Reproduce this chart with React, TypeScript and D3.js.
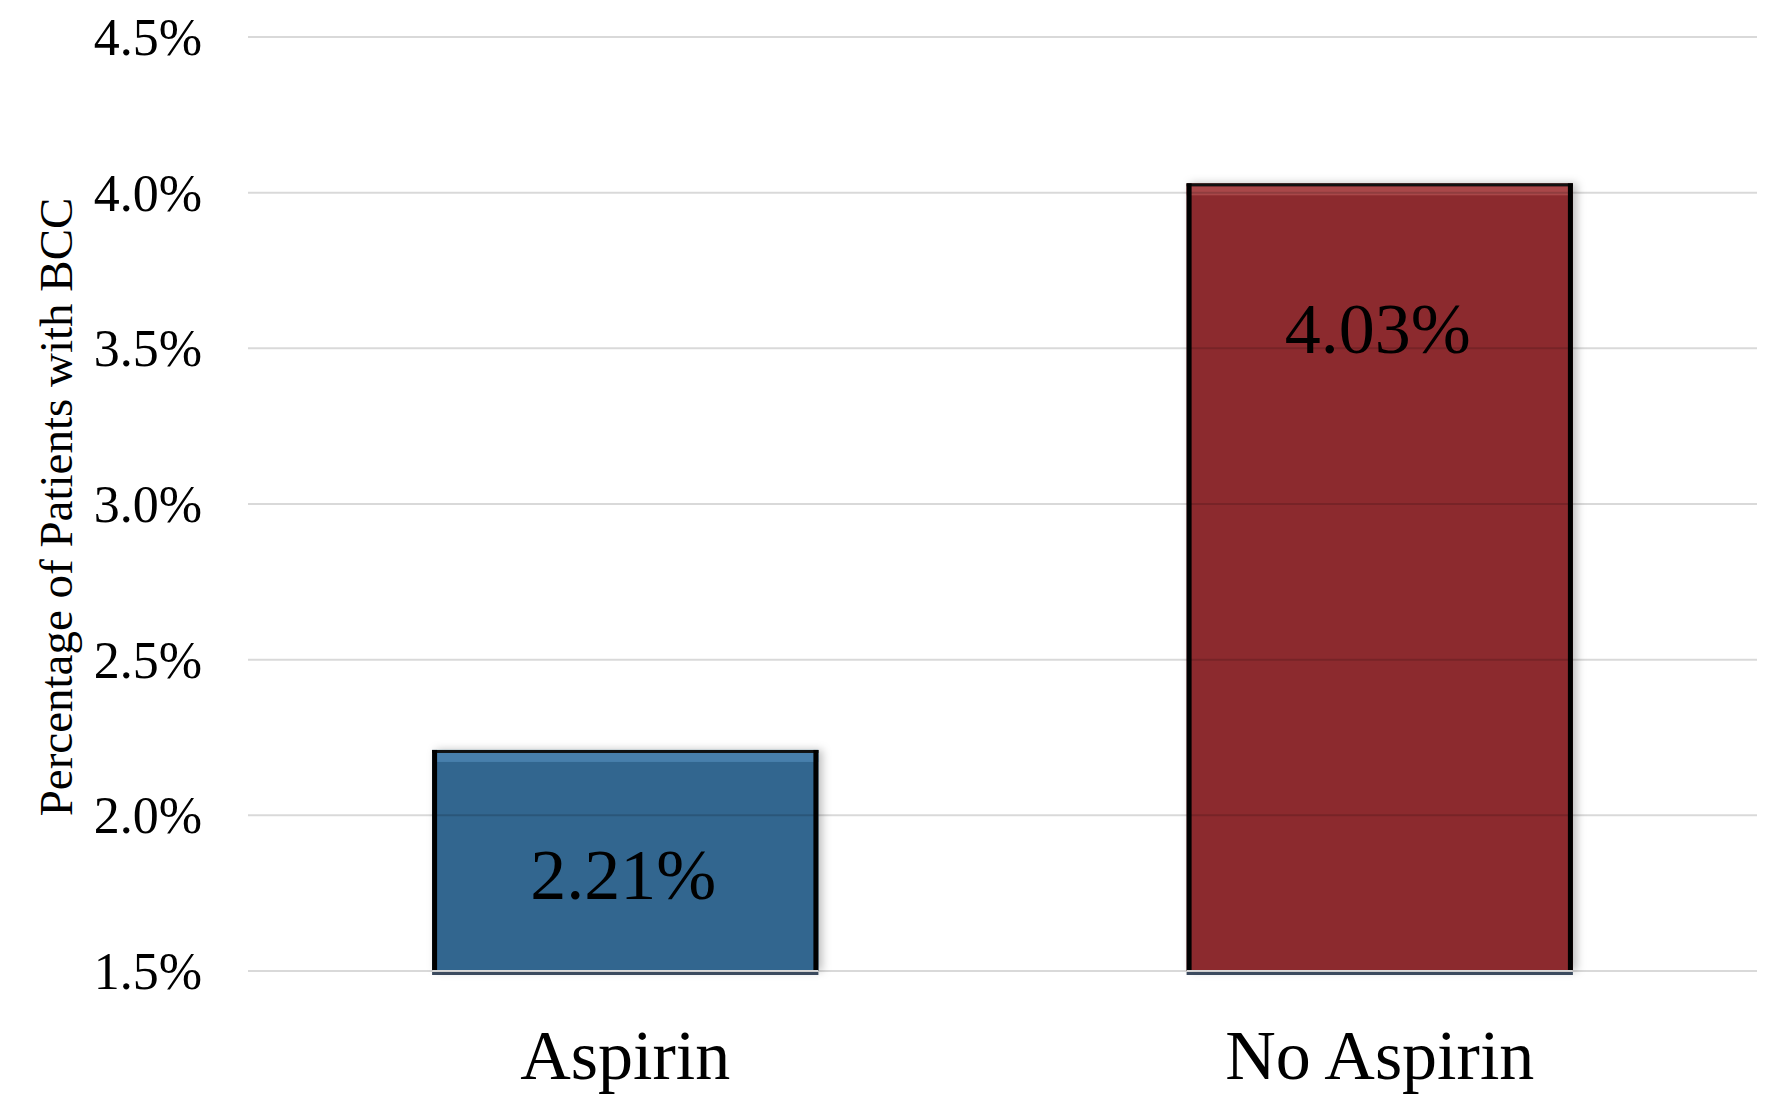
import React from "react";
import * as d3 from "d3";

const categories = ["Aspirin", "No Aspirin"];
const values = [2.21, 4.03];
const valueLabels = ["2.21%", "4.03%"];
const yTicks = [1.5, 2.0, 2.5, 3.0, 3.5, 4.0, 4.5];
const barColors = ["#31668f", "#8c2b2d"];
const barHighlights = ["#4d86b3", "#b04f50"];
const yTitle = "Percentage of Patients with BCC";

const W = 1772;
const H = 1104;
const plotLeft = 248;
const plotRight = 1757;
const FONT = "'Liberation Serif', 'Times New Roman', serif";

export default function App() {
  const y = d3.scaleLinear().domain([1.5, 4.5]).range([971, 37]);
  const x = d3
    .scaleBand<string>()
    .domain(categories)
    .range([plotLeft, plotRight])
    .paddingInner(0.488)
    .paddingOuter(0.244);

  const base = y(1.5);

  return (
    <svg
      width={W}
      height={H}
      style={{ position: "absolute", left: 0, top: 0, background: "#fff" }}
      fontFamily={FONT}
    >
      <defs>
        <filter id="shadow" x="-10%" y="-10%" width="130%" height="120%">
          <feDropShadow dx="4" dy="0" stdDeviation="4" floodColor="#000" floodOpacity="0.25" />
        </filter>
      </defs>
      <rect width={W} height={H} fill="#fff" />
      {/* bars */}
      {categories.map((c, i) => {
        const bx = x(c)!;
        const bw = x.bandwidth();
        const top = y(values[i]);
        const h = base - top;
        return (
          <g key={c}>
            <rect x={bx} y={top} width={bw} height={h} fill={barColors[i]} filter="url(#shadow)" />
            <rect x={bx} y={top + 3} width={bw} height={9} fill={barHighlights[i]} opacity={0.8} />
            <rect x={bx} y={top} width={bw} height={3} fill="#111" />
            <rect x={bx} y={top} width={5} height={h} fill="#000" />
            <rect x={bx + bw - 5} y={top} width={5} height={h} fill="#000" />
            <rect x={bx} y={base - 1} width={bw} height={1.5} fill="#fff" />
            <rect x={bx} y={base + 1} width={bw} height={3} fill="#3b4a5e" />
          </g>
        );
      })}
      {/* gridlines */}
      {yTicks.map((t) => (
        <line
          key={t}
          x1={plotLeft}
          x2={plotRight}
          y1={y(t)}
          y2={y(t)}
          stroke="#000"
          strokeOpacity={0.15}
          strokeWidth={2}
        />
      ))}
      {/* tick labels */}
      {yTicks.map((t) => (
        <text
          key={"l" + t}
          x={202}
          y={y(t) + 18}
          textAnchor="end"
          fontSize={52}
          fill="#000"
        >
          {t.toFixed(1) + "%"}
        </text>
      ))}
      {/* value labels */}
      {categories.map((c, i) => {
        const top = y(values[i]);
        const h = base - top;
        return (
          <text
            key={"v" + c}
            x={x(c)! + x.bandwidth() / 2 - 2}
            y={top + 140.7 + 0.0372 * h}
            textAnchor="middle"
            fontSize={72}
            fill="#000"
          >
            {valueLabels[i]}
          </text>
        );
      })}
      {/* category labels */}
      {categories.map((c) => (
        <text
          key={"c" + c}
          x={x(c)! + x.bandwidth() / 2}
          y={1079}
          textAnchor="middle"
          fontSize={70}
          fill="#000"
        >
          {c}
        </text>
      ))}
      {/* y title */}
      <text
        transform={`translate(72, 507) rotate(-90)`}
        textAnchor="middle"
        fontSize={47}
        fill="#000"
      >
        {yTitle}
      </text>
    </svg>
  );
}
